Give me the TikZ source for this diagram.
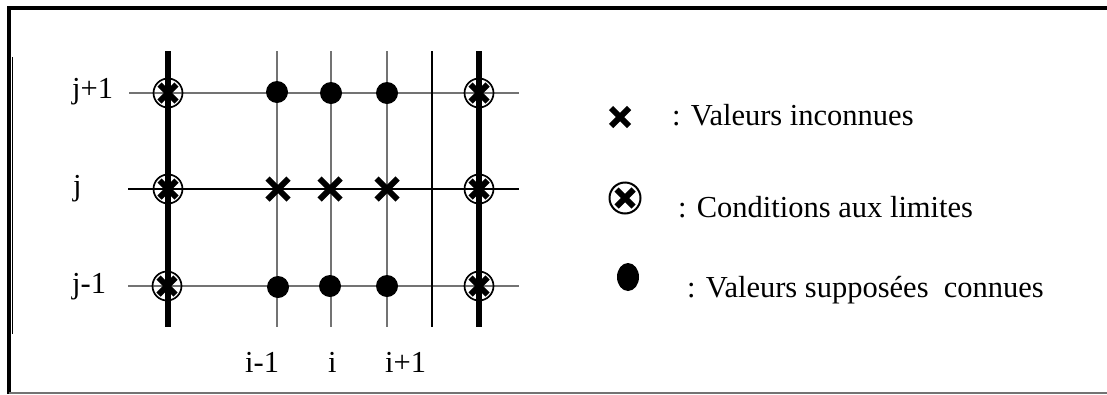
\documentclass[tikz,border=0pt]{standalone}
\usepackage{fontspec}
\setmainfont{Liberation Serif}
\usetikzlibrary{shapes.misc,shapes.geometric}
\begin{document}
\begin{tikzpicture}[x=1pt,y=-1pt,
  gline/.style={draw=black!55,line width=1.4pt},
  gblack/.style={draw=black,line width=1.3pt},
  bline/.style={draw=black,line width=6pt},
  unk/.style={cross out,draw=black,line width=6pt,minimum size=21pt,inner sep=0pt,outer sep=0pt},
  bc/.style={circle,draw=black,line width=1.7pt,minimum size=29pt,inner sep=0pt,
    path picture={\draw[line width=6pt] (-8.5pt,-8.5pt)--(8.5pt,8.5pt) (-8.5pt,8.5pt)--(8.5pt,-8.5pt);}},
  known/.style={circle,fill=black,minimum size=22pt,inner sep=0pt},
  lbl/.style={font=\fontsize{30.5}{36}\selectfont,inner sep=0pt,anchor=base west},
]
\fill[white] (0,0) rectangle (1107,394);
\useasboundingbox (0,0) rectangle (1107,394);
% frame
\draw[line width=4pt,line join=miter] (1107,8) -- (9,8) -- (9,394);
\draw[black!55,line width=1.5pt] (9,393) -- (1107,393);
\draw[line width=1.2pt] (12.5,57) -- (12.5,334);
% grid coordinates
\coordinate (hAl) at (129,93);  \coordinate (hAr) at (519,93);
\coordinate (hBl) at (128,189); \coordinate (hBr) at (519,189);
\coordinate (hCl) at (128,286); \coordinate (hCr) at (519,286);
\foreach \n/\x in {L/168,a/277,b/331,c/387,d/432,R/479}{
  \coordinate (v\n t) at (\x,51); \coordinate (v\n b) at (\x,327);
}
% horizontal lines
\draw[gline] (hAl) -- (hAr);
\draw[gblack] (hBl) -- (hBr);
\draw[gline] (hCl) -- (hCr);
% vertical lines
\draw[gline] (vat) -- (vab);
\draw[gline] (vbt) -- (vbb);
\draw[gline] (vct) -- (vcb);
\draw[gblack] (vdt) -- (vdb);
\draw[bline] (vLt) -- (vLb);
\draw[bline] (vRt) -- (vRb);
% boundary markers
\node[bc] (bL1) at (168,93) {};
\node[bc] (bL2) at (168,189) {};
\node[bc] (bL3) at (167,286) {};
\node[bc] (bR1) at (479,93) {};
\node[bc] (bR2) at (479,189) {};
\node[bc] (bR3) at (479,286) {};
% known values
\node[known] (k1) at (277,92) {};
\node[known] (k2) at (331,93) {};
\node[known] (k3) at (387,93) {};
\node[known] (k4) at (278,287) {};
\node[known] (k5) at (330,286) {};
\node[known] (k6) at (387,286) {};
% unknown values
\node[unk] (u1) at (278,189) {};
\node[unk] (u2) at (330,189) {};
\node[unk] (u3) at (387,189) {};
% row / column labels
\node[lbl] (rj1) at (72,98) {j+1};
\node[lbl] (rj) at (73,195) {j};
\node[lbl] (rjm) at (72,293) {j-1};
\node[lbl] (ci1) at (245,372) {i-1};
\node[lbl] (ci) at (328,372) {i};
\node[lbl] (cip) at (385,372) {i+1};
% legend
\node[unk,minimum size=18pt] (lu) at (620,117) {};
\node[lbl] (tu) at (672,125) {: Valeurs inconnues};
\node[bc,minimum size=31pt,line width=2pt] (lb) at (625,198) {};
\node[lbl] (tb) at (678,217) {: Conditions aux limites};
\node[ellipse,fill=black,minimum width=22pt,minimum height=28pt,inner sep=0pt] (lk) at (628,277) {};
\node[lbl] (tk) at (687,297) {: Valeurs suppos\'ees\ \ connues};
\end{tikzpicture}
\end{document}
